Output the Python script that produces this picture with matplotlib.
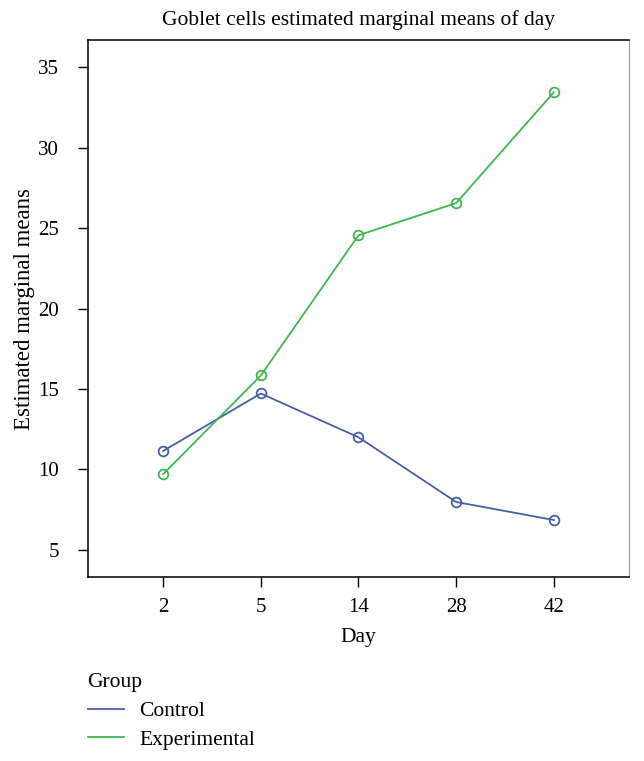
import numpy as np
import matplotlib
matplotlib.use('Agg')
import matplotlib.pyplot as plt
from matplotlib.lines import Line2D


days = ['2', '5', '14', '28', '42']
control = [11.15, 14.72, 12.0, 7.98, 6.86]
experimental = [9.71, 15.84, 24.55, 26.55, 33.43]
yticks = [5, 10, 15, 20, 25, 30, 35]

blue = '#4a5ea8'
green = '#3fb650'

plt.rcParams['font.family'] = ['Liberation Serif', 'DejaVu Serif']

fig = plt.figure(figsize=(6.44, 7.61), dpi=100)
ax = fig.add_axes([0.1366, 0.2418, 0.8401, 0.7056])

x = np.arange(len(days))
ax.plot(x, control, color=blue, lw=1.3, marker='o', ms=7, mfc='none', mew=1.3)
ax.plot(x, experimental, color=green, lw=1.3, marker='o', ms=7, mfc='none', mew=1.3)

ax.set_xlim(-0.77, 4.77)
ax.set_ylim(3.32, 36.68)
ax.set_xticks(x)
ax.set_xticklabels(days)
ax.set_yticks(yticks)
ax.tick_params(labelsize=15, length=7, width=1, direction='out')
ax.tick_params(axis='y', pad=14)
ax.tick_params(axis='x', pad=8)

for s in ['left', 'bottom', 'top']:
    ax.spines[s].set_linewidth(1.1)
ax.spines['right'].set_color('#999999')
ax.spines['right'].set_linewidth(0.8)

ax.set_title('Goblet cells estimated marginal means of day', fontsize=15.5, pad=11)
ax.set_xlabel('Day', fontsize=15.5, labelpad=8)
ax.set_ylabel('Estimated marginal means', fontsize=16.5, labelpad=2)

handles = [Line2D([], [], color=blue, lw=1.3), Line2D([], [], color=green, lw=1.3)]
leg = fig.legend(handles, ['Control', 'Experimental'], title='Group', frameon=False,
                 loc='upper left', bbox_to_anchor=(0.136, 0.115), fontsize=15.5,
                 title_fontsize=15.5, alignment='left', handlelength=1.7,
                 handletextpad=0.7, labelspacing=0.4, borderaxespad=0,
                 borderpad=0)

fig.savefig('out.png', dpi=100)
